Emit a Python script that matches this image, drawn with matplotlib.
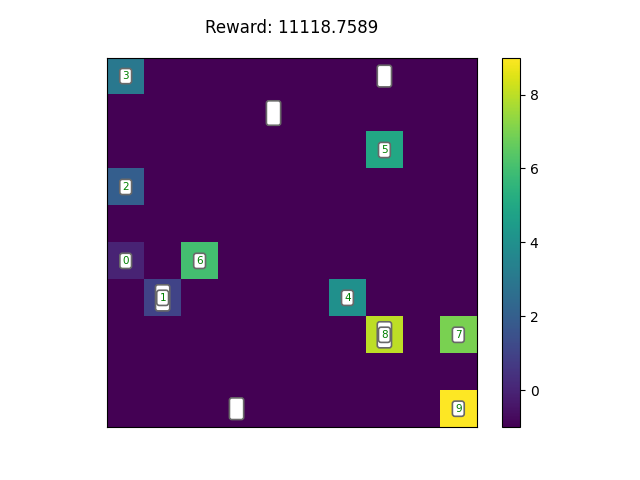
import numpy as np
import matplotlib
matplotlib.use("Agg")
import matplotlib.pyplot as plt

# numbered cells: row, col, value
cell_rows = [0, 2, 3, 5, 5, 6, 6, 7, 7, 9]
cell_cols = [0, 7, 0, 0, 2, 1, 6, 7, 9, 9]
cell_vals = [3, 5, 2, 0, 6, 1, 4, 8, 7, 9]

# unlabeled white markers
blank_rows = [0, 1, 9, 6, 7]
blank_cols = [7, 4, 3, 1, 7]
blank_spacing = [0.6, 0.95, 0.6, 1.15, 1.15]

reward = 11118.7589

grid = np.full((10, 10), -1.0)
for r, c, v in zip(cell_rows, cell_cols, cell_vals):
    grid[r, c] = v

fig = plt.figure(figsize=(6.4, 4.8), dpi=100)
ax = plt.gca()
im = ax.imshow(grid, cmap="viridis", vmin=-1, vmax=9)
plt.colorbar(im)
ax.set_xticks([])
ax.set_yticks([])
plt.title("Reward: {}".format(reward), pad=18)

box = dict(boxstyle="round,pad=0.25", facecolor="white", edgecolor="dimgray", linewidth=1.2)
for r, c, s in zip(blank_rows, blank_cols, blank_spacing):
    ax.text(c, r, "   \n   ", ha="center", va="center", fontsize=7,
            linespacing=s, bbox=box)
for r, c, v in zip(cell_rows, cell_cols, cell_vals):
    ax.text(c, r, str(v), ha="center", va="center", fontsize=7.5,
            color="green", bbox=box)

plt.savefig("out.png", dpi=100)
